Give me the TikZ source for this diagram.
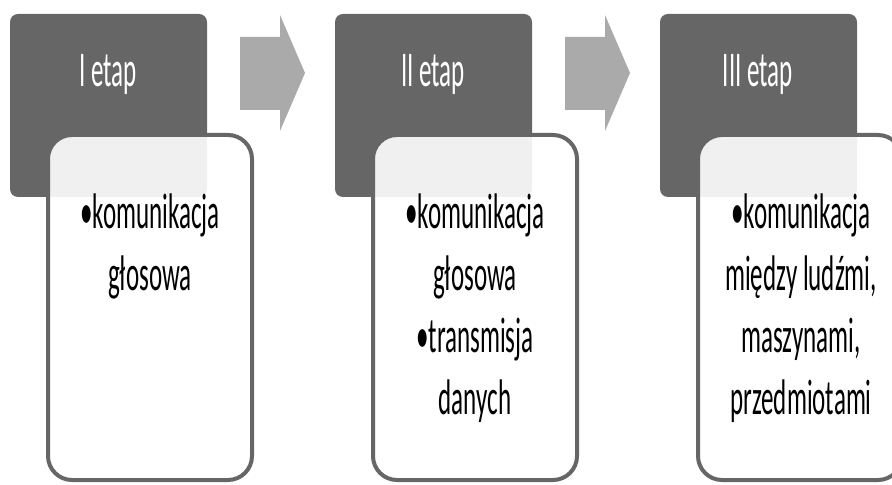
\documentclass[tikz,border=0pt]{standalone}
\usepackage{fontspec}
\setmainfont{Carlito}[FakeStretch=0.5]
\usepackage{tikz}
\definecolor{hdrgray}{RGB}{102,102,102}
\definecolor{arrgray}{RGB}{170,170,170}
\tikzstyle{hdr}=[fill=hdrgray,rounded corners=4pt]
\tikzstyle{bx}=[draw=hdrgray,line width=2pt,fill=white,fill opacity=0.9,rounded corners=12pt]
\tikzstyle{arr}=[fill=arrgray]
\tikzstyle{ht}=[text=white,font=\fontsize{25}{31}\selectfont,inner sep=0pt,anchor=base]
\tikzstyle{bt}=[text=black,font=\fontsize{25}{31}\selectfont,inner sep=0pt,anchor=north,align=center]

\begin{document}
\begin{tikzpicture}[x=0.5pt,y=-0.5pt]
\useasboundingbox (0,0) rectangle (892,485);

%headers
\foreach \i in {0,1,2} {
\fill[hdr] (10+325*\i,14) rectangle (207+325*\i,197);
}

%arrows
\foreach \i in {0,1} {
\fill[arr] (240+325*\i,37) -- (280+325*\i,37) -- (280+325*\i,15) -- (305+325*\i,73) -- (280+325*\i,131) -- (280+325*\i,110) -- (240+325*\i,110) -- cycle;
}

%boxes
\foreach \i in {0,1,2} {
\draw[bx] (48+325*\i,135) rectangle (252+325*\i,480);
}

%header text
\node[ht] (h1) at (108,87) {I etap};
\node[ht] (h2) at (433,87) {II etap};
\node[ht] (h3) at (758,87) {III etap};

%box text
\node[bt] (b1) at (150,193) {•komunikacja\\głosowa};
\node[bt] (b2) at (475,193) {•komunikacja\\głosowa\\•transmisja\\danych};
\node[bt] (b3) at (801,193) {•komunikacja\\między ludźmi,\\maszynami,\\przedmiotami};

\end{tikzpicture}
\end{document}
